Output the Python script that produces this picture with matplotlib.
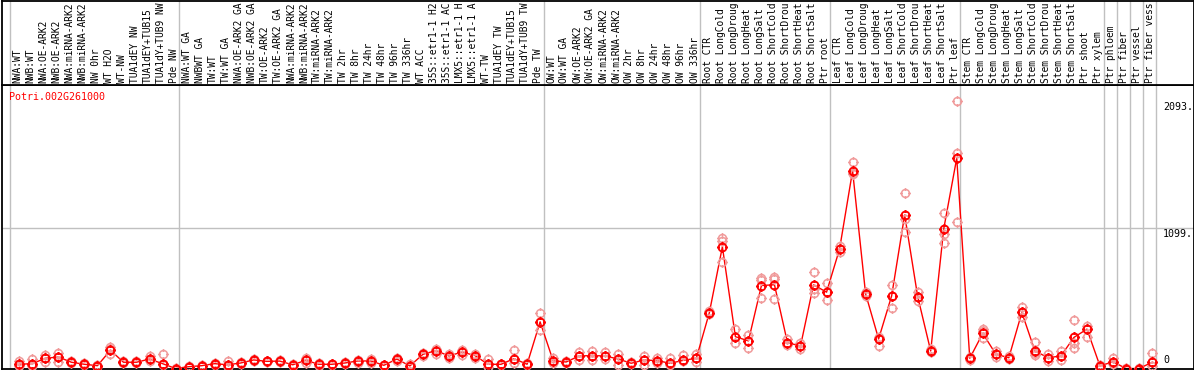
import matplotlib
matplotlib.use('Agg')
import matplotlib.pyplot as plt
from matplotlib.path import Path
import numpy as np

# 遺伝子名
gene_name = 'Potri.002G261000'

# サンプル名 (グループごと, 表示どおり14文字まで)
labels_nw = ['NWA:WT', 'NWB:WT', 'NWA:OE-ARK2', 'NWB:OE-ARK2', 'NWA:miRNA-ARK2', 'NWB:miRNA-ARK2',
             'NW 0hr', 'WT H2O', 'WT-NW', 'TUA1dEY NW', 'TUA1dEY+TUB15', 'TUA1dY+TUB9 NW', 'Pde NW']
labels_tw = ['NWA:WT GA', 'NWBWT GA', 'TW:WT', 'TW:WT GA', 'NWA:OE-ARK2 GA', 'NWB:OE-ARK2 GA',
             'TW:OE-ARK2', 'TW:OE-ARK2 GA', 'NWA:miRNA-ARK2', 'NWB:miRNA-ARK2', 'TW:miRNA-ARK2',
             'TW:miRNA-ARK2', 'TW 2hr', 'TW 8hr', 'TW 24hr', 'TW 48hr', 'TW 96hr', 'TW 336hr', 'WT ACC',
             '35S::etr1-1 H2', '35S::etr1-1 AC', 'LMX5::etr1-1 H', 'LMX5::etr1-1 A', 'WT-TW',
             'TUA1dEY TW', 'TUA1dEY+TUB15', 'TUA1dY+TUB9 TW', 'Pde TW']
labels_ow = ['OW:WT', 'OW:WT GA', 'OW:OE-ARK2', 'OW:OE-ARK2 GA', 'OW:miRNA-ARK2', 'OW:miRNA-ARK2',
             'OW 2hr', 'OW 8hr', 'OW 24hr', 'OW 48hr', 'OW 96hr', 'OW 336hr']
labels_root = ['Root CTR', 'Root LongCold', 'Root LongDroug', 'Root LongHeat', 'Root LongSalt',
               'Root ShortCold', 'Root ShortDrou', 'Root ShortHeat', 'Root ShortSalt', 'Ptr root']
labels_leaf = ['Leaf CTR', 'Leaf LongCold', 'Leaf LongDroug', 'Leaf LongHeat', 'Leaf LongSalt',
               'Leaf ShortCold', 'Leaf ShortDrou', 'Leaf ShortHeat', 'Leaf ShortSalt', 'Ptr leaf']
labels_stem = ['Stem CTR', 'Stem LongCold', 'Stem LongDroug', 'Stem LongHeat', 'Stem LongSalt',
               'Stem ShortCold', 'Stem ShortDrou', 'Stem ShortHeat', 'Stem ShortSalt',
               'Ptr shoot', 'Ptr xylem']
labels_tissue = ['Ptr phloem', 'Ptr fiber', 'Ptr vessel', 'Ptr fiber vess']

groups = [labels_nw, labels_tw, labels_ow, labels_root, labels_leaf, labels_stem,
          ['Ptr phloem'], ['Ptr fiber'], ['Ptr vessel'], ['Ptr fiber vess']]
labels = labels_nw + labels_tw + labels_ow + labels_root + labels_leaf + labels_stem + labels_tissue

# 平均値
means = [33, 38, 80, 90, 49, 33, 22, 143, 49, 49, 74, 38, 0,
         14, 22, 38, 29, 43, 67, 56, 58, 29, 64, 33, 33, 43, 59, 59, 25, 74, 20, 111, 140, 98, 129,
         101, 33, 33, 77, 33, 365,
         61, 51, 98, 101, 98, 74, 41, 67, 61, 41, 64, 80,
         437, 952, 249, 216, 649, 655, 202, 176, 655, 597,
         934, 1546, 584, 231, 568, 1201, 563, 137, 1091, 1645,
         80, 275, 112, 84, 438, 139, 84, 98, 243, 308, 20,
         53, 0, 0, 48]

# 反復測定値
reps = [[61, 25, 20], [74, 30, 20], [108, 80, 49], [124, 90, 53], [60, 49, 40], [40, 33, 25],
        [28, 22, 15], [171, 155, 110], [55, 49, 42], [55, 49, 42], [95, 74, 55], [111, 38, 25],
        [5, 0, 0],
        [20, 14, 8], [28, 22, 16], [45, 38, 30], [56, 29, 15], [50, 43, 36], [75, 67, 58],
        [60, 56, 52], [64, 58, 52], [35, 29, 22], [80, 64, 45], [40, 33, 20], [38, 33, 28],
        [50, 43, 36], [70, 59, 45], [72, 59, 40], [30, 25, 18], [85, 74, 60], [35, 20, 10],
        [119, 111, 98], [152, 140, 112], [112, 98, 86], [145, 129, 106], [112, 101, 86],
        [72, 33, 9], [35, 33, 25], [145, 77, 41], [46, 33, 25], [431, 365, 301],
        [80, 61, 46], [55, 51, 46], [126, 98, 67], [140, 101, 67], [132, 98, 72], [112, 74, 28],
        [54, 41, 35], [98, 67, 28], [80, 61, 41], [80, 41, 28], [108, 64, 61], [112, 80, 54],
        [450, 437, 425], [1021, 1000, 832], [307, 249, 202], [260, 216, 158], [707, 690, 550],
        [712, 700, 542], [230, 202, 180], [200, 176, 150], [754, 620, 589], [668, 597, 535],
        [960, 934, 910], [1611, 1530, 1520], [600, 584, 570], [250, 231, 179], [655, 568, 472],
        [1376, 1170, 1065], [600, 563, 530], [150, 137, 130], [1217, 1050, 981],
        [2093, 1687, 1146],
        [90, 80, 70], [306, 290, 240], [140, 112, 90], [95, 84, 75], [482, 438, 400],
        [209, 139, 120, 105], [110, 84, 60], [139, 98, 70], [378, 197, 157], [330, 308, 248],
        [25, 15, 0],
        [80, 53, 35], [5, 0, 0], [5, 0, 0], [118, 48, 20]]

ytick_vals = [2093, 1099, 0]
ytick_txt = ['2093.', '1099.', '0']
mid_val = 1099
y_max = 2217

# 丸に小さな目盛りの付いたマーカー
circle = Path.unit_circle()
ticks = Path([(0, 0.7), (0, 1.3), (0, -0.7), (0, -1.3), (0.7, 0), (1.3, 0), (-0.7, 0), (-1.3, 0)],
             [Path.MOVETO, Path.LINETO] * 4)
marker = Path.make_compound_path(circle, ticks)

W, H = 1194, 370
fig = plt.figure(figsize=(W / 100, H / 100), dpi=100)
mono = 'DejaVu Sans Mono'

# ピクセル→インデックス
x0, dx = 19.3, 13.02
xl = ((1.5 - x0) / dx, (1193.5 - x0) / dx)

ax = fig.add_axes([1.5 / W, 1.5 / H, 1192 / W, 283.5 / H])
hx = fig.add_axes([1.5 / W, 285 / H, 1192 / W, 84.5 / H])

x = np.arange(len(labels))
ax.set_xlim(*xl)
ax.set_ylim(0, y_max)
hx.set_xlim(*xl)
hx.set_ylim(0, 1)

for a in (ax, hx):
    a.set_xticks([])
    a.set_yticks([])
    for s in a.spines.values():
        s.set_color('black')
        s.set_linewidth(1.3)

# グループ区切り線
bounds = np.cumsum([0] + [len(g) for g in groups]) - 0.714
for b in bounds:
    ax.axvline(b, color='#c0c0c0', lw=1, zorder=0)
    hx.axvline(b, color='#c0c0c0', lw=1, zorder=0)
ax.axhline(mid_val, color='#c0c0c0', lw=1, zorder=0)

# サンプル名
for i, lab in enumerate(labels):
    hx.text(i - 0.14, 0.025, lab, rotation=90, ha='center', va='bottom',
            fontsize=6.9, family=mono)

# 反復値
for i, r in enumerate(reps):
    ax.plot([i] * len(r), r, linestyle='none', marker=marker, markersize=7.5,
            mfc='none', mec='#f09a9a', mew=1.1, zorder=3)

# 平均値
ax.plot(x, means, color='red', lw=1, zorder=2)
ax.plot(x, means, linestyle='none', marker=marker, markersize=7.5,
        mfc='none', mec='red', mew=1.3, zorder=4)

ax.text((9 - x0) / dx, 2123, gene_name, color='red', fontsize=7.2, family=mono,
        ha='left', va='center')

for v, t in zip(ytick_vals, ytick_txt):
    ax.text((1163 - x0) / dx, v + (25 if v == 0 else -10), t, fontsize=7.2, family=mono,
            ha='left', va='bottom' if v == 0 else 'top')

fig.savefig('out.png', dpi=100)
